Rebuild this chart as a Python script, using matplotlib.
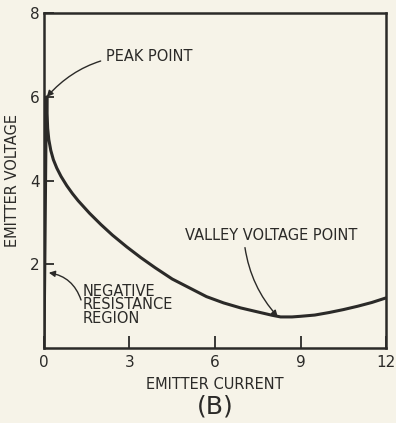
"""Unijunction transistor emitter characteristic, figure (B)."""

import matplotlib
matplotlib.use("Agg")
import matplotlib.pyplot as plt

plt.rcParams["font.family"] = ["DejaVu Sans"]

INK = "#2b2a28"
PAPER = "#f6f3e8"

# Emitter current / voltage.
emitter_current = [0.0, 0.03, 0.07, 0.1, 0.11, 0.13, 0.17, 0.24, 0.33, 0.45,
                   0.6, 0.8, 1.0, 1.2, 1.6, 2.0, 2.4, 2.9, 3.4, 3.9, 4.5, 5.1,
                   5.7, 6.3, 6.9, 7.4, 8.0, 8.3, 8.7, 9.0, 9.5, 10.0, 10.5,
                   11.0, 11.5, 12.0]
emitter_voltage = [0.0, 2.0, 5.0, 6.0, 5.6, 5.25, 4.98, 4.72, 4.5, 4.3,
                   4.1, 3.88, 3.69, 3.52, 3.22, 2.95, 2.7, 2.42, 2.16, 1.92,
                   1.65, 1.44, 1.23, 1.08, 0.96, 0.88, 0.785, 0.745, 0.745,
                   0.76, 0.79, 0.85, 0.92, 1.0, 1.09, 1.2]

x_ticks = [0, 3, 6, 9, 12]
y_ticks = [2, 4, 6, 8]

peak = (0.1, 6.0)
valley = (8.2, 0.75)
negative_region = (0.17, 1.8)

fig = plt.figure(figsize=(3.96, 4.23), dpi=100, facecolor=PAPER)
ax = fig.add_axes([0.111, 0.177, 0.864, 0.792], facecolor=PAPER)

ax.plot(emitter_current, emitter_voltage, color=INK, linewidth=2.2,
        solid_joinstyle="round", solid_capstyle="round")

ax.set_xlim(0, 12)
ax.set_ylim(0, 8)
ax.set_xticks(x_ticks)
ax.set_yticks(y_ticks)
ax.tick_params(direction="in", length=7, width=1.3, color=INK,
               labelcolor=INK, labelsize=11)
ax.tick_params(axis="x", length=9, pad=5)
ax.tick_params(axis="y", pad=3)
for spine in ax.spines.values():
    spine.set_color(INK)
    spine.set_linewidth(1.8)

label_font = dict(color=INK, fontsize=10.5)
ax.set_xlabel("EMITTER CURRENT", labelpad=5, **label_font)
ax.set_ylabel("EMITTER VOLTAGE", labelpad=7, **label_font)
fig.text(0.543, 0.038, "(B)", color=INK, fontsize=18, ha="center",
         va="center")

# Callouts with curved arrows.
arrow = dict(arrowstyle="-|>", color=INK, lw=1.0, mutation_scale=9)
ax.annotate("PEAK POINT", xy=peak, xytext=(2.18, 6.97), va="center",
            ha="left", **label_font,
            arrowprops=dict(arrow, connectionstyle="arc3,rad=0.25",
                            shrinkA=2, shrinkB=0))
ax.text(4.95, 2.68, "VALLEY VOLTAGE POINT", va="center", ha="left",
        **label_font)
ax.annotate("", xy=valley, xytext=(7.05, 2.4),
            arrowprops=dict(arrow, connectionstyle="arc3,rad=0.15",
                            shrinkA=0, shrinkB=0))
ax.text(1.37, 1.03, "NEGATIVE\nRESISTANCE\nREGION", va="center", ha="left",
        linespacing=0.85, **label_font)
ax.annotate("", xy=negative_region, xytext=(1.3, 1.15),
            arrowprops=dict(arrow, connectionstyle="arc3,rad=0.3",
                            shrinkA=0, shrinkB=0))

fig.savefig("out.png", dpi=100, facecolor=PAPER)
